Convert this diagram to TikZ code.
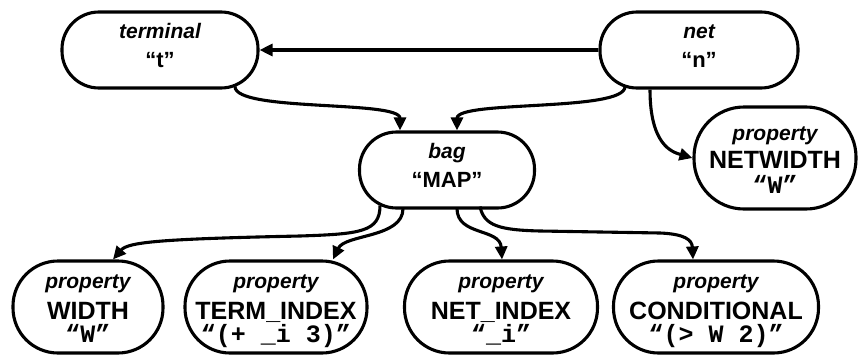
\documentclass[tikz,border=0pt]{standalone}
\usepackage{fontspec}
\setmainfont{Liberation Sans}
\newfontfamily\monob{Liberation Mono}[BoldFont={* Bold}]
\usetikzlibrary{arrows.meta}
\tikzset{
  pill/.style={draw, line width=3.1pt, rounded corners=#1, inner sep=0pt},
  arr/.style={line width=3.1pt, -{Triangle[length=13pt,width=12pt]}},
  kindtxt/.style={anchor=base, inner sep=0pt, font=\fontsize{21}{25}\selectfont\bfseries\itshape},
  nametxt/.style={anchor=base, inner sep=0pt, font=\fontsize{25}{30}\selectfont\bfseries},
  valtxt/.style={anchor=base, inner sep=0pt, font=\fontsize{22}{26}\selectfont\bfseries},
  codetxt/.style={anchor=base, inner sep=0pt, font=\fontsize{25}{30}\selectfont\monob\bfseries},
}
\begin{document}
\begin{tikzpicture}[x=1pt,y=1pt]
\useasboundingbox (0,0) rectangle (861,-356);

% boxes
\node[pill=37pt, minimum width=196pt, minimum height=76pt] (term) at (160,-50) {};
\node[pill=37pt, minimum width=198pt, minimum height=76pt] (net) at (699,-50) {};
\node[pill=37pt, minimum width=175pt, minimum height=76pt] (bag) at (447,-170) {};
\node[pill=50pt, minimum width=162pt, minimum height=102pt] (nw) at (775,-158) {};
\node[pill=45pt, minimum width=150pt, minimum height=92pt] (w) at (88,-307) {};
\node[pill=45pt, minimum width=182pt, minimum height=92pt] (ti) at (276,-307) {};
\node[pill=45pt, minimum width=193pt, minimum height=92pt] (ni) at (501,-307) {};
\node[pill=45pt, minimum width=205pt, minimum height=92pt] (cd) at (716,-307) {};

% texts
\node[kindtxt] (termk) at (160,-38) {terminal};
\node[valtxt] (termv) at (160,-67) {“t”};
\node[kindtxt] (netk) at (699,-38) {net};
\node[valtxt] (netv) at (699,-67) {“n”};
\node[kindtxt] (bagk) at (447,-158) {bag};
\node[valtxt] (bagv) at (447,-187) {“MAP”};
\node[kindtxt] (nwk) at (775,-140) {property};
\node[nametxt] (nwn) at (775,-168) {NETWIDTH};
\node[codetxt] (nwv) at (775,-193) {“W”};
\node[kindtxt] (wk) at (88,-288) {property};
\node[nametxt] (wn) at (88,-319) {WIDTH};
\node[codetxt] (wv) at (88,-342) {“W”};
\node[kindtxt] (tik) at (276,-288) {property};
\node[nametxt] (tin) at (276,-319) {TERM\_INDEX};
\node[codetxt] (tiv) at (276,-342) {“(+ \_i 3)”};
\node[kindtxt] (nik) at (501,-288) {property};
\node[nametxt] (nin) at (501,-319) {NET\_INDEX};
\node[codetxt] (niv) at (501,-342) {“\_i”};
\node[kindtxt] (cdk) at (716,-288) {property};
\node[nametxt] (cdn) at (716,-319) {CONDITIONAL};
\node[codetxt] (cdv) at (716,-342) {“(> W 2)”};

% connectors
\draw[arr] (net.west) -- (term.east);
\draw[arr] ([xshift=75pt,yshift=3pt]term.south) .. controls (235,-112) and (400,-100) .. ([xshift=-47pt]bag.north);
\draw[arr] ([xshift=-74pt,yshift=3pt]net.south) .. controls (625,-112) and (457,-100) .. ([xshift=10pt]bag.north);
\draw[arr] ([xshift=-49pt]net.south) .. controls (650,-145) and (672,-152) .. (nw.west);
\draw[arr] ([xshift=-67pt,yshift=4pt]bag.south) .. controls (380,-232) and (360,-234) .. (300,-236)
   .. controls (160,-239) and (128,-242) .. ([xshift=25pt]w.north);
\draw[arr] ([xshift=-44pt,yshift=1pt]bag.south) .. controls (403,-238) and (345,-234) .. ([xshift=57pt]ti.north);
\draw[arr] ([xshift=10pt,yshift=1pt]bag.south) .. controls (457,-236) and (500,-228) .. ([xshift=1pt]ni.north);
\draw[arr] ([xshift=33pt,yshift=3pt]bag.south) .. controls (484,-226) and (500,-230) .. (540,-231)
   -- (660,-233) .. controls (685,-234) and (692,-240) .. ([xshift=-23pt]cd.north);
\end{tikzpicture}
\end{document}
